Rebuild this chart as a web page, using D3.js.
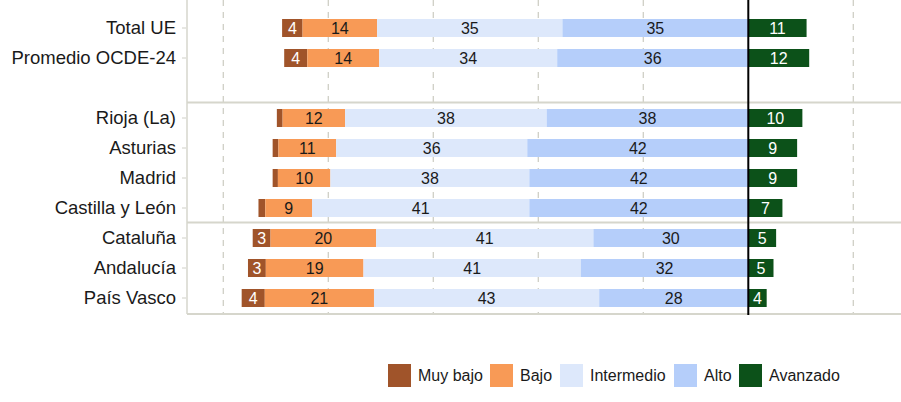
<!DOCTYPE html>
<html>
<head>
<meta charset="utf-8">
<script src="https://cdn.jsdelivr.net/npm/d3@7"></script>
<style>
  body { margin: 0; background: #fff; }
  svg { display: block; font-family: "Liberation Sans", Arial, sans-serif; }
</style>
</head>
<body>
<svg id="chart" width="901" height="402"></svg>
<script>
// rows, top to bottom ("" = empty spacer row)
var rows = ["Total UE", "Promedio OCDE-24", "", "Rioja (La)", "Asturias", "Madrid",
            "Castilla y León", "Cataluña", "Andalucía", "País Vasco"];
var levels = ["Muy bajo", "Bajo", "Intermedio", "Alto", "Avanzado"];

// percentages per level (spacer row skipped)
var muyBajo    = [3.9, 4.4, null, 1.1, 1.1, 1.0, 1.3, 3.4, 3.4, 4.4];
var bajo       = [14.2, 13.7, null, 11.9, 11.0, 10.0, 8.9, 20.1, 18.6, 20.8];
var intermedio = [35.3, 33.9, null, 38.4, 36.4, 37.9, 41.4, 41.4, 41.4, 42.9];
var alto       = [35.4, 36.4, null, 38.4, 42.1, 41.7, 41.7, 29.5, 31.9, 28.4];
var avanzado   = [11.1, 11.6, null, 10.3, 9.3, 9.3, 6.5, 5.3, 4.8, 3.5];

var xTicks = [-100, -80, -60, -40, -20, 0, 20];

var colors = ["#a0542a", "#f89a56", "#dde8fb", "#b5cefa", "#0c5119"];
var textColors = ["#fff", "#1a1a1a", "#1a1a1a", "#1a1a1a", "#fff"];

var svg = d3.select("#chart");

var x = d3.scaleLinear().domain([-100, 20]).range([223.3, 853.3]);
var y = d3.scaleBand().domain(rows).range([13, 313]).paddingInner(0.4).paddingOuter(0.2);
var plotLeft = 187, plotRight = 901, plotBottom = 314;

// dashed grid
svg.append("g").selectAll("line")
  .data(xTicks.filter(function (d) { return d !== 0; }))
  .enter().append("line")
  .attr("x1", function (d) { return x(d); })
  .attr("x2", function (d) { return x(d); })
  .attr("y1", 0).attr("y2", plotBottom)
  .attr("stroke", "#cfcfc6").attr("stroke-width", 1.3)
  .attr("stroke-dasharray", "6,6");

// build segments: first four stack leftwards from zero, avanzado goes right
var series = [muyBajo, bajo, intermedio, alto, avanzado];
var segs = [];
rows.forEach(function (r, i) {
  if (r === "") return;
  var left = -(muyBajo[i] + bajo[i] + intermedio[i] + alto[i]);
  for (var k = 0; k < 4; k++) {
    var v = series[k][i];
    segs.push({ row: r, k: k, v: v, x0: left, x1: left + v });
    left += v;
  }
  segs.push({ row: r, k: 4, v: avanzado[i], x0: 0, x1: avanzado[i] });
});

svg.append("g").selectAll("rect")
  .data(segs).enter().append("rect")
  .attr("x", function (d) { return x(d.x0); })
  .attr("width", function (d) { return x(d.x1) - x(d.x0); })
  .attr("y", function (d) { return y(d.row); })
  .attr("height", y.bandwidth())
  .attr("fill", function (d) { return colors[d.k]; });

svg.append("g").selectAll("text")
  .data(segs.filter(function (d) { return d.v >= 2; }))
  .enter().append("text")
  .attr("x", function (d) { return (x(d.x0) + x(d.x1)) / 2; })
  .attr("y", function (d) { return y(d.row) + y.bandwidth() / 2; })
  .attr("dy", "0.36em")
  .attr("text-anchor", "middle")
  .attr("font-size", 16)
  .attr("fill", function (d) { return textColors[d.k]; })
  .text(function (d) { return Math.round(d.v); });

// group separators
var seps = ["Rioja (La)", "Cataluña"];
svg.append("g").selectAll("line")
  .data(seps).enter().append("line")
  .attr("x1", plotLeft).attr("x2", plotRight)
  .attr("y1", function (d) { return y(d) - y.step() * 0.2 - 0.5; })
  .attr("y2", function (d) { return y(d) - y.step() * 0.2 - 0.5; })
  .attr("stroke", "#d6d6cc").attr("stroke-width", 2);

// frame
svg.append("line").attr("x1", plotLeft).attr("x2", plotLeft).attr("y1", 0).attr("y2", plotBottom)
  .attr("stroke", "#d6d6cc").attr("stroke-width", 1.5);
svg.append("line").attr("x1", plotLeft).attr("x2", plotRight).attr("y1", plotBottom).attr("y2", plotBottom)
  .attr("stroke", "#d6d6cc").attr("stroke-width", 2);

// zero line
svg.append("line").attr("x1", x(0)).attr("x2", x(0)).attr("y1", 0).attr("y2", plotBottom + 1)
  .attr("stroke", "#000").attr("stroke-width", 2);

// y axis labels
var yAxis = d3.axisLeft(y).tickSize(4).tickPadding(6)
  .tickValues(rows.filter(function (r) { return r !== ""; }));
var ga = svg.append("g").attr("transform", "translate(" + (plotLeft - 1) + ",0)").call(yAxis);
ga.select(".domain").remove();
ga.selectAll(".tick line").attr("stroke", "#cfcfc6");
ga.selectAll(".tick text").attr("font-size", 18.5).attr("fill", "#1a1a1a")
  .attr("font-family", "'Liberation Sans', Arial, sans-serif");

// legend
var legendX = [388, 490, 560, 674, 739];
var lg = svg.append("g").selectAll("g")
  .data(levels).enter().append("g")
  .attr("transform", function (d, i) { return "translate(" + legendX[i] + ",364)"; });
lg.append("rect").attr("width", 23).attr("height", 23)
  .attr("fill", function (d, i) { return colors[i]; });
lg.append("text").attr("x", 30).attr("y", 11.5).attr("dy", "0.36em")
  .attr("font-size", 16).attr("fill", "#1a1a1a")
  .text(function (d) { return d; });
</script>
</body>
</html>
